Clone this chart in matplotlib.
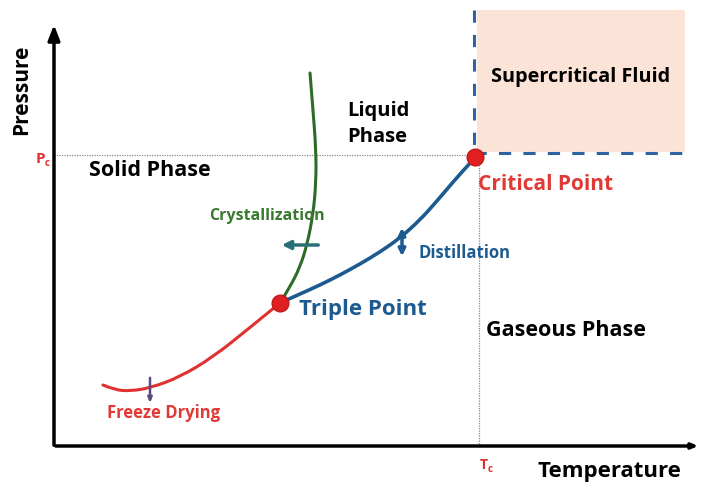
import matplotlib
matplotlib.use("Agg")
import matplotlib.pyplot as plt
from matplotlib.path import Path
from matplotlib.patches import PathPatch
import numpy as np

plt.rcParams['font.family'] = ['Open Sans', 'DejaVu Sans']

#%% values (pixel-like units, y grows downward)
solid_gas_T = [103, 115, 130, 150, 180, 213, 247, 280]
solid_gas_P = [385, 390, 391, 388, 377, 357, 330, 303]

solid_liquid_T = [280, 290, 300, 307, 313, 316, 316, 313, 310]
solid_liquid_P = [303, 287, 267, 245, 215, 183, 150, 110, 73]

liquid_gas_T = [280, 300, 320, 340, 360, 380, 400, 420, 437, 453, 470, 475]
liquid_gas_P = [303, 294, 285, 275, 264, 252, 238, 220, 201, 182, 163, 158]

triple_point = (280, 303)
critical_point = (475, 157)
Tc = 479
Pc = 155
origin = (54, 446)
supercrit_box = (477, 10, 685, 152)


def smooth_curve(ax, xs, ys, **kw):
    '''quadratic spline through the read points: endpoints + midpoints, points as controls'''
    pts = np.column_stack([xs, ys]).astype(float)
    verts = [pts[0]]
    codes = [Path.MOVETO]
    for i in range(1, len(pts) - 1):
        mid = (pts[i] + pts[i + 1]) / 2 if i < len(pts) - 2 else pts[i + 1]
        verts += [pts[i], mid]
        codes += [Path.CURVE3, Path.CURVE3]
    patch = PathPatch(Path(verts, codes), fill=False, capstyle='round', **kw)
    ax.add_patch(patch)
    return patch


#%%
fig = plt.figure(figsize=(7.02, 4.84), dpi=100)
ax = fig.add_axes([0, 0, 1, 1])
ax.set_xlim(0, 702)
ax.set_ylim(484, 0)
ax.axis('off')

# supercritical region
x0, y0, x1, y1 = supercrit_box
ax.fill_between([x0, x1], y0, y1, color='#fbe3d7', zorder=0, lw=0)
ax.plot([474, 474], [y0, 153], color='#2f62a3', lw=2.2, ls=(0, (4, 4)), zorder=1)
ax.plot([474, x1], [153, 153], color='#2f62a3', lw=2.2, ls=(0, (4, 4)), zorder=1)

# axes with arrows
ax.annotate('', xy=(origin[0], 22), xytext=(origin[0], origin[1] + 2),
            arrowprops=dict(arrowstyle='-|>,head_length=0.9,head_width=0.35', color='black', lw=2.5))
ax.annotate('', xy=(701, origin[1]), xytext=(origin[0] - 1, origin[1]),
            arrowprops=dict(arrowstyle='-|>,head_length=0.35,head_width=0.15', color='black', lw=2.5))

# Pc / Tc guide lines
ax.plot([origin[0], critical_point[0]], [Pc, Pc], color='#888888', lw=0.9, ls=(0, (1, 1)), zorder=1)
ax.plot([Tc, Tc], [Pc, origin[1]], color='#888888', lw=0.9, ls=(0, (1, 1)), zorder=1)

# phase curves
smooth_curve(ax, solid_gas_T, solid_gas_P, edgecolor='#e03030', lw=2.2, zorder=3)
smooth_curve(ax, solid_liquid_T, solid_liquid_P, edgecolor='#2e6b2a', lw=2.2, zorder=3)
smooth_curve(ax, liquid_gas_T, liquid_gas_P, edgecolor='#1d5a8f', lw=2.6, zorder=3)

ax.plot(*triple_point, 'o', ms=12, color='#e02020', mec='#c01818', zorder=5)
ax.plot(*critical_point, 'o', ms=12, color='#e02020', mec='#c01818', zorder=5)

# process arrows
ax.annotate('', xy=(279, 245), xytext=(321, 245),
            arrowprops=dict(arrowstyle='-|>,head_length=0.5,head_width=0.25', color='#2a6e78', lw=2.5))
ax.annotate('', xy=(402, 225), xytext=(402, 259),
            arrowprops=dict(arrowstyle='<|-|>,head_length=0.4,head_width=0.2', color='#1d5a8f', lw=2.5))
ax.annotate('', xy=(150, 406), xytext=(150, 375),
            arrowprops=dict(arrowstyle='-|>,head_length=0.3,head_width=0.12', color='#5a4a80', lw=1.8))

# labels
bold = dict(fontweight='bold')
ax.text(22, 90, 'Pressure', rotation=90, ha='center', va='center', fontsize=15, color='black', **bold)
ax.text(609, 472, 'Temperature', ha='center', va='center', fontsize=16, color='black', **bold)
ax.text(40, 159, 'P', ha='center', va='center', fontsize=11, color='#e03030', **bold)
ax.text(47, 164, 'c', ha='center', va='center', fontsize=7, color='#e03030', **bold)
ax.text(484, 465, 'T', ha='center', va='center', fontsize=10, color='#e03030', **bold)
ax.text(490, 470, 'c', ha='center', va='center', fontsize=7, color='#e03030', **bold)

ax.text(150, 170, 'Solid Phase', ha='center', va='center', fontsize=15.5, color='black', **bold)
ax.text(347, 124, 'Liquid\nPhase', ha='left', va='center', fontsize=14.5, color='black',
        linespacing=1.35, **bold)
ax.text(566, 330, 'Gaseous Phase', ha='center', va='center', fontsize=15.5, color='black', **bold)
ax.text(581, 77, 'Supercritical Fluid', ha='center', va='center', fontsize=14.3, color='black', **bold)
ax.text(478, 185, 'Critical Point', ha='left', va='center', fontsize=15, color='#e03a36', **bold)
ax.text(299, 310, 'Triple Point', ha='left', va='center', fontsize=16, color='#1d5a8f', **bold)
ax.text(267, 216, 'Crystallization', ha='center', va='center', fontsize=11.5, color='#3a7a30', **bold)
ax.text(418, 253, 'Distillation', ha='left', va='center', fontsize=12, color='#1d5a8f', **bold)
ax.text(164, 413, 'Freeze Drying', ha='center', va='center', fontsize=12, color='#e03a36', **bold)

fig.savefig('out.png', dpi=100)
